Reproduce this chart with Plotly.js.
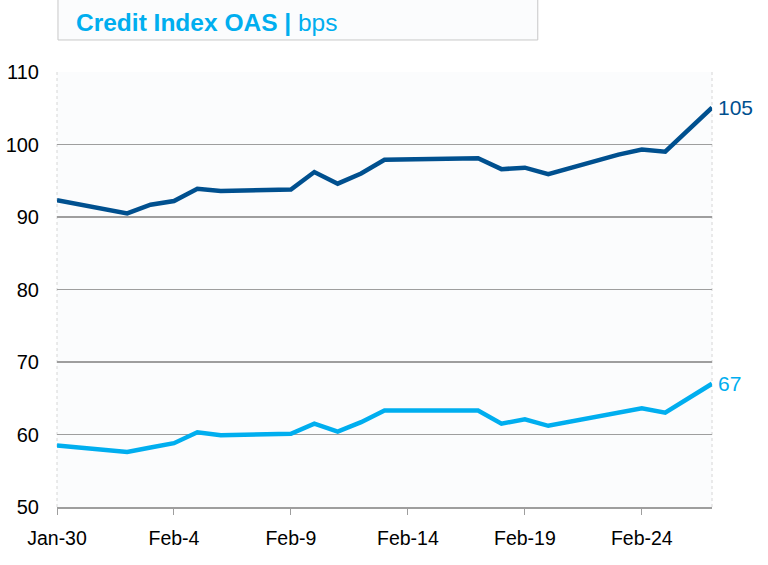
<!DOCTYPE html>
<html>
<head>
<meta charset="utf-8">
<script src="https://cdn.plot.ly/plotly-3.0.1.min.js"></script>
<style>
html,body{margin:0;padding:0;background:#fff;}
#chart{width:768px;height:565px;}
</style>
</head>
<body>
<div id="chart"></div>
<script>
// Data
const dates = ['2026-01-30','2026-02-02','2026-02-03','2026-02-04','2026-02-05','2026-02-06',
  '2026-02-09','2026-02-10','2026-02-11','2026-02-12','2026-02-13','2026-02-17','2026-02-18',
  '2026-02-19','2026-02-20','2026-02-23','2026-02-24','2026-02-25','2026-02-27'];
const seriesDark = [92.3, 90.5, 91.7, 92.2, 93.9, 93.6, 93.8, 96.2, 94.6, 96.0, 97.9, 98.1, 96.6,
  96.8, 95.9, 98.6, 99.3, 99.0, 105.1];
const seriesLight = [58.5, 57.6, 58.2, 58.8, 60.3, 59.9, 60.1, 61.5, 60.4, 61.7, 63.3, 63.3, 61.5,
  62.1, 61.2, 63.1, 63.6, 63.0, 67.0];
const tickDates = ['2026-01-30','2026-02-04','2026-02-09','2026-02-14','2026-02-19','2026-02-24'];
const tickLabels = ['Jan-30','Feb-4','Feb-9','Feb-14','Feb-19','Feb-24'];
const titleBold = 'Credit Index OAS | ';
const titleUnit = 'bps';

const darkColor = '#00508f';
const lightColor = '#00aeef';
const font = 'Liberation Sans, Arial, sans-serif';

const traces = [
  {x: dates, y: seriesDark, type: 'scatter', mode: 'lines',
   line: {color: darkColor, width: 4.5}, hoverinfo: 'x+y'},
  {x: dates, y: seriesLight, type: 'scatter', mode: 'lines',
   line: {color: lightColor, width: 4.5}, hoverinfo: 'x+y'}
];

const lastIdx = dates.length - 1;

const layout = {
  width: 768, height: 565,
  margin: {l: 57, r: 56, t: 72, b: 58},
  paper_bgcolor: '#ffffff',
  plot_bgcolor: '#fbfcfd',
  showlegend: false,
  font: {family: font, color: '#000', size: 20},
  xaxis: {
    type: 'date',
    range: [dates[0], dates[lastIdx]],
    tickvals: tickDates, ticktext: tickLabels,
    showgrid: false, zeroline: false,
    showline: true, linecolor: '#9e9e9e', linewidth: 2,
    ticks: 'outside', ticklen: 6, tickcolor: '#9e9e9e', tickwidth: 1,
    tickfont: {family: font, size: 19.5, color: '#000'},
    ticklabelstandoff: 7,
    fixedrange: true
  },
  yaxis: {
    range: [50, 110], dtick: 10, tick0: 50,
    showgrid: true, gridcolor: '#9e9e9e', gridwidth: 1.6,
    zeroline: false, showline: false, ticks: '',
    tickfont: {family: font, size: 20, color: '#000'},
    ticklabelstandoff: 17,
    fixedrange: true
  },
  shapes: [
    {type: 'rect', xref: 'paper', yref: 'paper', x0: 0.0015, x1: 0.734, y0: 1.0736, y1: 1.175,
     fillcolor: '#fbfcfd', line: {color: '#c8c8c8', width: 1}, layer: 'above'},
    {type: 'line', xref: 'paper', yref: 'paper', x0: 0, x1: 0, y0: 0, y1: 1,
     line: {color: '#d6d6d6', width: 1, dash: 'dot'}, layer: 'below'},
    {type: 'line', xref: 'paper', yref: 'paper', x0: 1, x1: 1, y0: 0, y1: 1,
     line: {color: '#d6d6d6', width: 1, dash: 'dot'}, layer: 'below'}
  ],
  annotations: [
    {xref: 'paper', yref: 'paper', x: 0.0267, y: 1.114, xanchor: 'left', yanchor: 'middle',
     text: '<b>' + titleBold + '</b>' + titleUnit, showarrow: false,
     font: {family: font, size: 24.5, color: lightColor}},
    {x: dates[lastIdx], y: seriesDark[lastIdx], xref: 'x', yref: 'y', xanchor: 'left', yanchor: 'middle',
     xshift: 4, text: String(Math.round(seriesDark[lastIdx])), showarrow: false,
     font: {family: font, size: 21, color: darkColor}},
    {x: dates[lastIdx], y: seriesLight[lastIdx], xref: 'x', yref: 'y', xanchor: 'left', yanchor: 'middle',
     xshift: 4, text: String(Math.round(seriesLight[lastIdx])), showarrow: false,
     font: {family: font, size: 21, color: lightColor}}
  ]
};

Plotly.newPlot('chart', traces, layout, {displayModeBar: false, staticPlot: true});
</script>
</body>
</html>
